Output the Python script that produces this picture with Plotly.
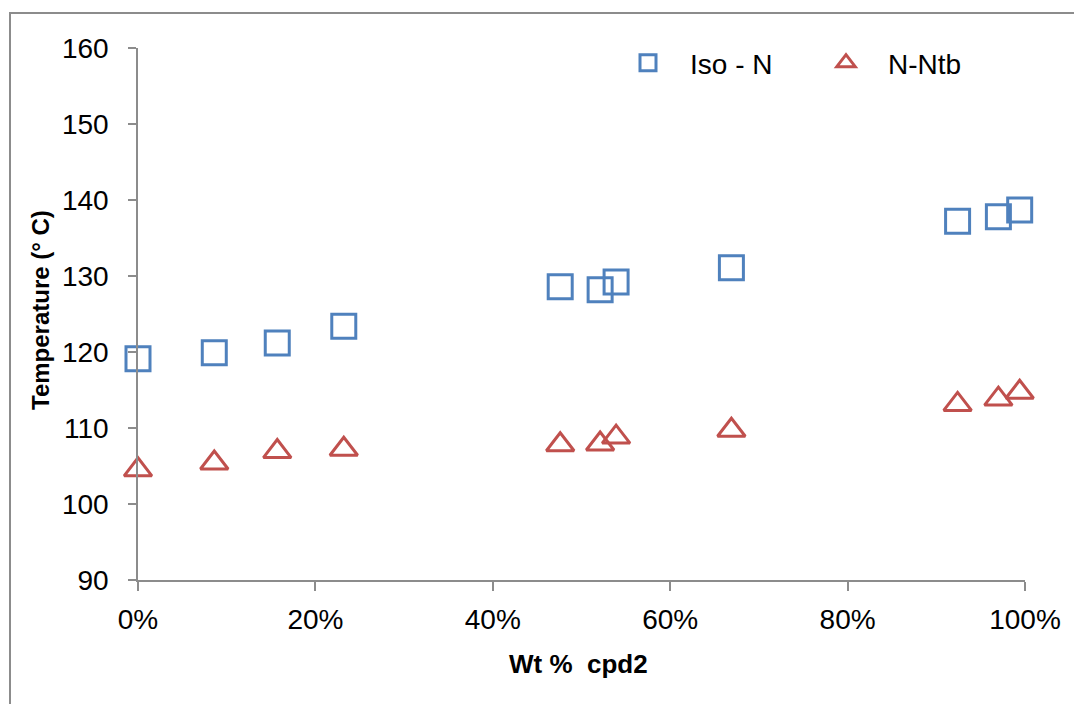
import plotly.graph_objects as go

# Composition (weight fraction of cpd2) and transition temperatures (°C)
wt_cpd2 = [0.0, 0.086, 0.157, 0.232, 0.476, 0.521, 0.539, 0.669, 0.924, 0.970, 0.994]
t_iso_n = [119.1, 119.9, 121.2, 123.4, 128.6, 128.2, 129.2, 131.1, 137.2, 137.8, 138.7]
t_n_ntb = [104.5, 105.4, 106.9, 107.2, 107.8, 107.9, 108.8, 109.7, 113.1, 113.8, 114.7]

y_ticks = [90, 100, 110, 120, 130, 140, 150, 160]
x_ticks = [0.0, 0.2, 0.4, 0.6, 0.8, 1.0]

BLUE = "#4F81BD"
RED = "#C0504D"
AXIS = "#8c8c8c"
LABEL_FONT = "Liberation Sans Narrow, Arial Narrow, Liberation Sans, Arial, sans-serif"
BOLD = "Liberation Sans, Arial, sans-serif"

W, H = 1074, 704
ML, MR, MT, MB = 138, 49, 48, 124
PW, PH = W - ML - MR, H - MT - MB


def px_x(p):
    return (p - ML) / PW


def px_y(p):
    return (H - MB - p) / PH


fig = go.Figure()
fig.add_trace(go.Scatter(
    x=wt_cpd2, y=t_iso_n, mode="markers", name="Iso - N", cliponaxis=False,
    marker=dict(symbol="square-open", size=24, color=BLUE, line=dict(width=3, color=BLUE)),
))
fig.add_trace(go.Scatter(
    x=wt_cpd2, y=t_n_ntb, mode="markers", name="N-Ntb", cliponaxis=False,
    marker=dict(symbol="triangle-up-open", size=24, color=RED, line=dict(width=3, color=RED)),
))

axis_common = dict(
    showline=True, linecolor=AXIS, linewidth=1.5, mirror=False,
    showgrid=False, zeroline=False, ticks="outside", tickcolor=AXIS,
    tickwidth=1.5, tickfont=dict(family=LABEL_FONT, size=28, color="#000000"),
)

fig.update_xaxes(range=[0, 1], tickvals=x_ticks, tickformat=".0%", ticklen=9,
                 ticklabelstandoff=5, **axis_common)
fig.update_yaxes(range=[90, 160], tickvals=y_ticks, ticklen=8,
                 ticklabelstandoff=14, **axis_common)

fig.update_layout(
    width=W, height=H,
    margin=dict(l=ML, r=MR, t=MT, b=MB, pad=0),
    plot_bgcolor="white", paper_bgcolor="white",
    showlegend=True,
    legend=dict(
        orientation="h", x=px_x(606), y=px_y(63), xanchor="left", yanchor="middle",
        font=dict(family=LABEL_FONT, size=28, color="#000000"),
        bgcolor="rgba(0,0,0,0)", itemwidth=74, entrywidth=109, itemsizing="trace",
    ),
    annotations=[
        dict(text="<b>Temperature (° C)</b>", xref="paper", yref="paper",
             x=px_x(41), y=px_y(310), xanchor="center", yanchor="middle",
             textangle=-90, showarrow=False,
             font=dict(family=BOLD, size=24, color="#000000")),
        dict(text="<b>Wt %  cpd2</b>", xref="paper", yref="paper",
             x=px_x(578), y=px_y(664), xanchor="center", yanchor="middle",
             showarrow=False,
             font=dict(family=BOLD, size=26, color="#000000")),
    ],
    shapes=[
        dict(type="rect", xref="paper", yref="paper",
             x0=px_x(10), y0=px_y(720), x1=px_x(1090), y1=px_y(13),
             line=dict(color=AXIS, width=2), fillcolor="rgba(0,0,0,0)", layer="below"),
    ],
)

fig.write_html("out.html")
